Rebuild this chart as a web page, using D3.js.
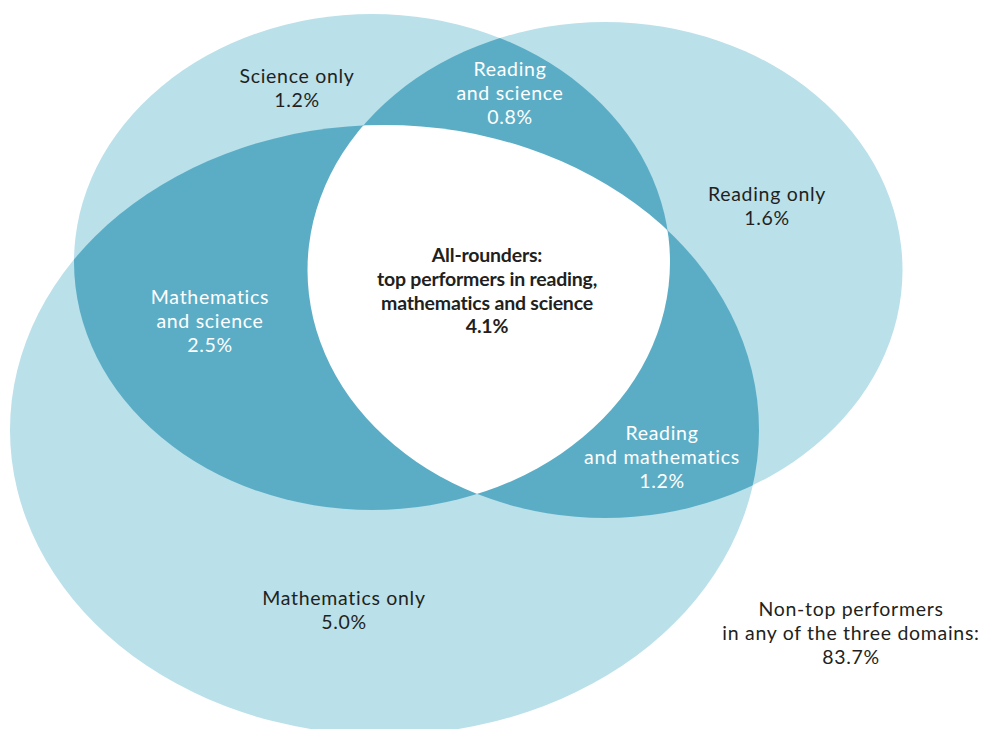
<!DOCTYPE html>
<meta charset="utf-8">
<style>

body {
  margin: 0;
  background: #fff;
}

svg text {
  font-family: Lato, "Open Sans", sans-serif;
  font-size: 19.5px;
  letter-spacing: 0.7px;
  text-anchor: middle;
}

svg text.bold {
  font-weight: bold;
  letter-spacing: -0.2px;
}

</style>
<svg width="982" height="729"></svg>
<script src="https://d3js.org/d3.v7.min.js"></script>
<script>

// the three domains, in drawing order
var domains = ["Science", "Reading", "Mathematics"]

// regions of the diagram and their share of students (%)
var regionLines = [["Science only"],
                   ["Reading only"],
                   ["Mathematics only"],
                   ["Reading", "and science"],
                   ["Mathematics", "and science"],
                   ["Reading", "and mathematics"],
                   ["All-rounders:", "top performers in reading,", "mathematics and science"],
                   ["Non-top performers", "in any of the three domains:"]]
var regionShares = [1.2, 1.6, 5.0, 0.8, 2.5, 1.2, 4.1, 83.7]
var regionOverlap = [1, 1, 1, 2, 2, 2, 3, 0]   // number of domains in the region

// layout, in units of the drawing
var shapes = [{cx: 372, cy: 262, rx: 298, ry: 248},
              {cx: 605, cy: 270, rx: 297.5, ry: 248},
              {cx: 384.5, cy: 430, rx: 374.5, ry: 305}]
var labelAt = [[297, 83], [767, 201], [344, 605], [510, 76],
               [210, 304], [662, 440], [487, 262], [851, 616]]

var svg = d3.select("svg"),
    width = +svg.attr("width"),
    height = +svg.attr("height")

var x = d3.scaleLinear().domain([0, 982]).range([0, width]),
    y = d3.scaleLinear().domain([0, 729]).range([0, height]),
    r = d3.scaleLinear().domain([0, 982]).range([0, width])

var fill = d3.scaleOrdinal()
    .domain([1, 2, 3])
    .range(["#bae0ea", "#5badc6", "#ffffff"])

var fmt = function(v) { return d3.format(".1f")(v) + "%" }

// clip paths, one per domain
svg.append("defs").selectAll("clipPath")
    .data(shapes)
    .enter().append("clipPath")
    .attr("id", function(d, i) { return "clip-" + domains[i] })
  .append("ellipse")
    .attr("cx", function(d) { return x(d.cx) })
    .attr("cy", function(d) { return y(d.cy) })
    .attr("rx", function(d) { return r(d.rx) })
    .attr("ry", function(d) { return r(d.ry) })

function ellipse(sel, d, color) {
  sel.append("ellipse")
      .attr("cx", x(d.cx))
      .attr("cy", y(d.cy))
      .attr("rx", r(d.rx))
      .attr("ry", r(d.ry))
      .style("fill", color)
}

// single domains
shapes.forEach(function(d) { ellipse(svg, d, fill(1)) })

// pairs
var pairs = [[0, 1], [0, 2], [1, 2]]
pairs.forEach(function(p) {
  var g = svg.append("g").attr("clip-path", "url(#clip-" + domains[p[1]] + ")")
  ellipse(g, shapes[p[0]], fill(2))
})

// all three
var g3 = svg.append("g").attr("clip-path", "url(#clip-" + domains[2] + ")")
    .append("g").attr("clip-path", "url(#clip-" + domains[1] + ")")
ellipse(g3, shapes[0], fill(3))

// labels
var labels = svg.selectAll("text.label")
    .data(regionLines)
    .enter().append("text")
    .attr("class", function(d, i) { return regionOverlap[i] == 3 ? "label bold" : "label" })
    .attr("x", function(d, i) { return x(labelAt[i][0]) })
    .attr("y", function(d, i) { return y(labelAt[i][1]) })
    .style("fill", function(d, i) { return regionOverlap[i] == 2 ? "#ffffff" : "#231f20" })

labels.selectAll("tspan")
    .data(function(d, i) { return d.concat([fmt(regionShares[i])]) })
    .enter().append("tspan")
    .attr("x", function() { return this.parentNode.getAttribute("x") })
    .attr("dy", function(d, j) { return j == 0 ? 0 : 23.8 })
    .text(function(d) { return d })

</script>
</html>
